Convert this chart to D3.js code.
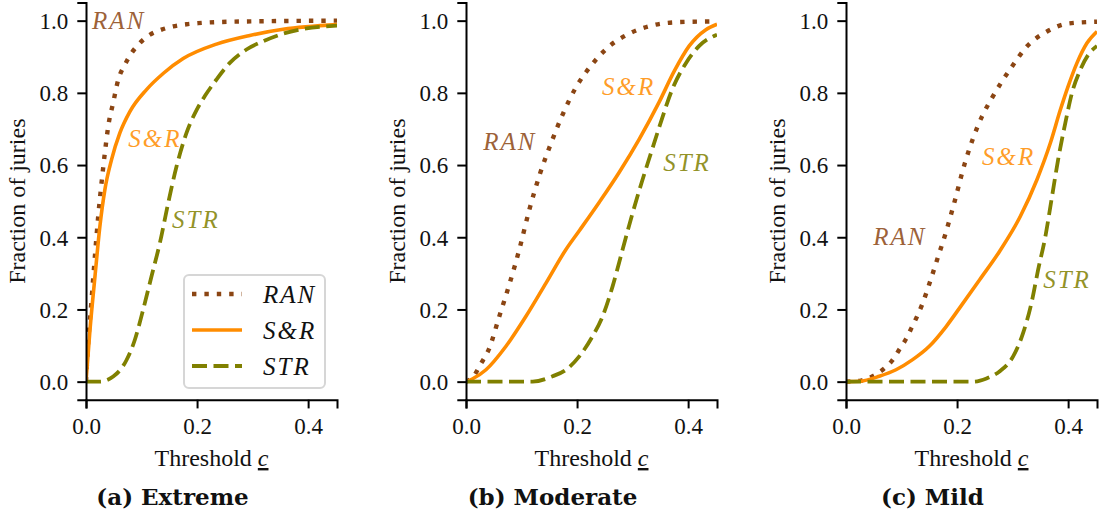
<!DOCTYPE html>
<html>
<head>
<meta charset="utf-8">
<script src="https://cdn.jsdelivr.net/npm/d3@7"></script>
<style>
    body { margin: 0; background: #fff; }
</style>
</head>
<body>
<svg id="chart" width="1102" height="514"></svg>
<script>
// values, [threshold c, fraction of juries]
var thresholdTicks = [0, 0.2, 0.4];
var fractionTicks = [0, 0.2, 0.4, 0.6, 0.8, 1.0];
var scenarios = ["Extreme", "Moderate", "Mild"];
var captionLetters = ["(a)", "(b)", "(c)"];
var methods = ["RAN", "S&R", "STR"];

var extremeRAN = [[0,0],[0.004,0.108],[0.01,0.227],[0.016,0.347],[0.022,0.458],[0.028,0.551],[0.034,0.634],[0.04,0.707],[0.049,0.773],[0.058,0.836],[0.07,0.878],[0.082,0.91],[0.097,0.938],[0.115,0.961],[0.136,0.975],[0.157,0.984],[0.181,0.99],[0.202,0.993],[0.26,0.997],[0.452,1.0]];
var extremeSR = [[0,0],[0.0072,0.144],[0.0162,0.292],[0.025,0.43],[0.034,0.532],[0.046,0.615],[0.061,0.689],[0.079,0.748],[0.109,0.809],[0.14,0.855],[0.175,0.895],[0.235,0.935],[0.295,0.959],[0.355,0.976],[0.452,0.989]];
var extremeSTR = [[0,0],[0.025,0],[0.049,0.014],[0.073,0.06],[0.088,0.116],[0.103,0.2],[0.118,0.292],[0.133,0.384],[0.148,0.495],[0.163,0.596],[0.181,0.689],[0.2,0.755],[0.214,0.791],[0.235,0.837],[0.259,0.883],[0.289,0.92],[0.319,0.943],[0.349,0.961],[0.391,0.977],[0.452,0.986]];

var moderateRAN = [[0,0],[0.012,0.012],[0.027,0.05],[0.041,0.089],[0.06,0.181],[0.078,0.269],[0.096,0.366],[0.114,0.476],[0.133,0.575],[0.153,0.66],[0.174,0.74],[0.198,0.815],[0.225,0.875],[0.255,0.925],[0.294,0.964],[0.339,0.988],[0.384,0.996],[0.452,0.998]];
var moderateSR = [[0,0],[0.012,0.008],[0.036,0.033],[0.072,0.098],[0.108,0.181],[0.144,0.273],[0.18,0.366],[0.204,0.418],[0.24,0.497],[0.276,0.58],[0.312,0.672],[0.348,0.775],[0.375,0.86],[0.402,0.93],[0.432,0.975],[0.452,0.99]];
var moderateSTR = [[0,0],[0.12,0],[0.156,0.015],[0.18,0.033],[0.204,0.07],[0.228,0.126],[0.246,0.181],[0.264,0.264],[0.282,0.366],[0.3,0.467],[0.318,0.56],[0.333,0.633],[0.348,0.705],[0.372,0.812],[0.396,0.882],[0.42,0.93],[0.452,0.961]];

var mildRAN = [[0,0],[0.027,0.003],[0.048,0.015],[0.066,0.033],[0.083,0.058],[0.096,0.089],[0.108,0.118],[0.118,0.149],[0.128,0.181],[0.137,0.213],[0.152,0.28],[0.166,0.347],[0.18,0.414],[0.194,0.49],[0.214,0.605],[0.229,0.675],[0.245,0.735],[0.263,0.786],[0.281,0.832],[0.299,0.873],[0.326,0.929],[0.362,0.97],[0.4,0.992],[0.452,0.997]];
var mildSR = [[0,0],[0.024,0.001],[0.06,0.015],[0.09,0.033],[0.12,0.061],[0.15,0.098],[0.18,0.152],[0.205,0.205],[0.241,0.283],[0.277,0.362],[0.314,0.458],[0.344,0.56],[0.368,0.661],[0.386,0.753],[0.4,0.818],[0.416,0.883],[0.434,0.938],[0.452,0.97]];
var mildSTR = [[0,0],[0.229,0],[0.253,0.009],[0.277,0.029],[0.301,0.07],[0.319,0.135],[0.334,0.218],[0.346,0.31],[0.359,0.402],[0.371,0.513],[0.382,0.615],[0.395,0.717],[0.407,0.8],[0.422,0.864],[0.436,0.905],[0.452,0.93]];

// where the in-plot names sit (data coords, left edge / vertical middle)
var extremeLabelAt = [[0.011,1.0],[0.076,0.673],[0.155,0.449]];
var moderateLabelAt = [[0.031,0.665],[0.245,0.817],[0.355,0.609]];
var mildLabelAt = [[0.049,0.402],[0.245,0.623],[0.355,0.285]];

var panelSeries = [[extremeRAN, extremeSR, extremeSTR], [moderateRAN, moderateSR, moderateSTR], [mildRAN, mildSR, mildSTR]];
var panelLabels = [extremeLabelAt, moderateLabelAt, mildLabelAt];

var style = {
    "RAN": { color: "#8b4513", width: 4.4, dash: "4.4,8" },
    "S&R": { color: "#ff8c00", width: 3.6, dash: null },
    "STR": { color: "#808000", width: 3.8, dash: "15,6.5" }
};

var SERIF = "'Liberation Serif', serif";

var svg = d3.select("#chart").style("font-family", SERIF);
var plotW = 251, plotTop = 2.6, plotBottom = 399.7;

var x = d3.scaleLinear().domain([0, 0.452]).range([0, plotW]);
var y = d3.scaleLinear().domain([-0.05, 1.05]).range([plotBottom, plotTop]);

var line = d3.line()
    .x(function (d) { return x(d[0]); })
    .y(function (d) { return y(d[1]); })
    .curve(d3.curveMonotoneX);

svg.append("defs").append("clipPath").attr("id", "plotClip")
    .append("rect").attr("x", 0).attr("y", plotTop).attr("width", plotW).attr("height", plotBottom - plotTop);

function txt(sel) {
    return sel.style("font-family", SERIF).style("fill", "#111");
}

scenarios.forEach(function (name, i) {
    var g = svg.append("g").attr("transform", "translate(" + (86 + i * 380) + ",0)");

    var lines = g.append("g").attr("clip-path", "url(#plotClip)");
    methods.forEach(function (m, k) {
        var s = style[m];
        lines.append("path")
            .datum(panelSeries[i][k])
            .attr("d", line)
            .attr("fill", "none")
            .attr("stroke", s.color)
            .attr("stroke-width", s.width)
            .attr("stroke-dasharray", s.dash)
            .attr("stroke-linejoin", "round");
    });

    // in-plot names
    methods.forEach(function (m, k) {
        var p = panelLabels[i][k];
        txt(g.append("text"))
            .attr("x", x(p[0]))
            .attr("y", y(p[1]))
            .attr("dy", "0.35em")
            .attr("font-size", 25)
            .attr("letter-spacing", 2)
            .style("font-style", "italic")
            .style("fill", style[m].color)
            .style("fill-opacity", 0.85)
            .text(m);
    });

    var xAxis = g.append("g")
        .attr("transform", "translate(0," + plotBottom + ")")
        .call(d3.axisBottom(x).tickValues(thresholdTicks).tickFormat(d3.format(".1f")).tickSizeOuter(0).tickSize(8.7).tickPadding(9));
    var yAxis = g.append("g")
        .call(d3.axisLeft(y).tickValues(fractionTicks).tickFormat(d3.format(".1f")).tickSizeOuter(0).tickSize(8.7).tickPadding(9));

    [xAxis, yAxis].forEach(function (ax) {
        ax.attr("font-family", null).attr("font-size", null);
        ax.select(".domain").attr("stroke", "#000").attr("stroke-width", 2);
        ax.selectAll(".tick line").attr("stroke", "#000").attr("stroke-width", 2);
        txt(ax.selectAll(".tick text")).style("font-size", "23px");
    });
    yAxis.selectAll(".tick text").attr("dy", "0.34em");

    var xl = txt(g.append("text"))
        .attr("x", plotW / 2)
        .attr("y", 466)
        .attr("text-anchor", "middle")
        .style("font-size", "24px");
    xl.append("tspan").text("Threshold ");
    xl.append("tspan").style("font-style", "italic").style("text-decoration", "underline").text("c");

    txt(g.append("text"))
        .attr("transform", "translate(-61," + y(0.5) + ") rotate(-90)")
        .attr("text-anchor", "middle")
        .style("font-size", "24px")
        .text("Fraction of juries");

    txt(g.append("text"))
        .attr("x", 86.5)
        .attr("y", 505)
        .attr("text-anchor", "middle")
        .style("font-size", "23px")
        .style("font-weight", "bold")
        .style("font-family", "'DejaVu Serif', serif")
        .text(captionLetters[i] + "\u00a0" + name);

    if (i === 0) {
        var leg = g.append("g").attr("transform", "translate(98,275)");
        leg.append("rect")
            .attr("width", 141).attr("height", 113).attr("rx", 5)
            .attr("fill", "#fff").attr("fill-opacity", 0.85)
            .attr("stroke", "#d6d6d6").attr("stroke-width", 2);
        methods.forEach(function (m, k) {
            var s = style[m];
            var ly = 19 + k * 36;
            leg.append("line")
                .attr("x1", 8).attr("x2", 58).attr("y1", ly).attr("y2", ly)
                .attr("stroke", s.color).attr("stroke-width", s.width)
                .attr("stroke-dasharray", s.dash);
            txt(leg.append("text"))
                .attr("x", 79).attr("y", ly).attr("dy", "0.35em")
                .attr("letter-spacing", 2)
                .style("font-size", "25px").style("font-style", "italic")
                .text(m);
        });
    }
});
</script>
</body>
</html>
